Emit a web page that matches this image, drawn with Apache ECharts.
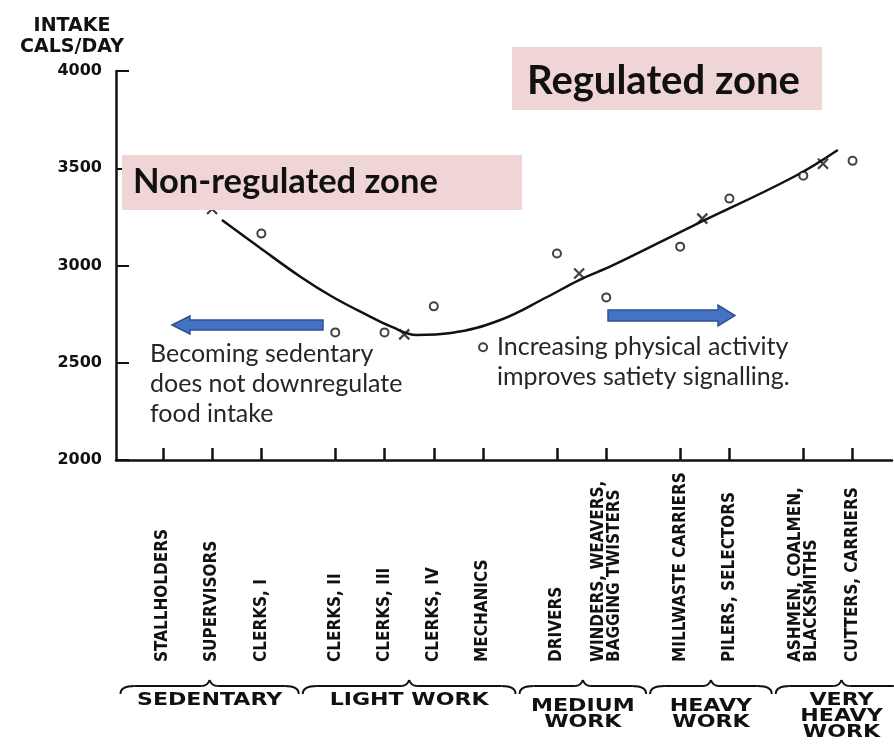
<!DOCTYPE html>
<html>
<head>
<meta charset="utf-8">
<script src="https://cdn.jsdelivr.net/npm/echarts@6/dist/echarts.min.js"></script>
<style>
  html, body { margin: 0; padding: 0; background: #fff; }
  #chart { width: 894px; height: 745px; }
</style>
</head>
<body>
<div id="chart"></div>
<script>
// occupations along the x axis (x = slot on the axis, gaps between work groups)
const occupations = ['STALLHOLDERS', 'SUPERVISORS', 'CLERKS, I', 'CLERKS, II', 'CLERKS, III', 'CLERKS, IV', 'MECHANICS',
	'DRIVERS', 'WINDERS, WEAVERS,\nBAGGING TWISTERS', 'MILLWASTE CARRIERS', 'PILERS, SELECTORS',
	'ASHMEN, COALMEN,\nBLACKSMITHS', 'CUTTERS, CARRIERS'];
const occupationX = [0, 2, 4, 7, 9, 11, 13, 16, 18, 21, 23, 26, 28];
// stallholders and supervisors are hidden behind the label box in the source
const occupationIntake = [null, null, 3164, 2656, 2656, 2790, 2580, 3062, 2836, 3097, 3344, 3462, 3538];

// work groups: means (x marks) and the bracket bounds below the labels
const groups = ['SEDENTARY', 'LIGHT WORK', 'MEDIUM\nWORK', 'HEAVY\nWORK', 'VERY\nHEAVY\nWORK'];
const groupBounds = [-1.8, 5.6, 14.4, 19.7, 24.8, 30.3];
const groupMeanX = [2, 9.8, 16.9, 21.9, 26.8];
const groupMeanIntake = [3290, 2646, 2959, 3241, 3523];

// fitted curve
const curveX = [2.4, 3.9, 5.6, 6.9, 8.3, 9.3, 10.3, 11.7, 13.7, 15.6, 16.9, 18.3, 21.5, 25.6, 27.4];
const curveIntake = [3234, 3095, 2941, 2838, 2745, 2684, 2643, 2653, 2720, 2838, 2925, 3003, 3203, 3455, 3594];

const yTicks = [2000, 2500, 3000, 3500, 4000];

let chart = echarts.init(document.getElementById('chart'));

let circles = [];
occupationX.forEach(function (x, i) {
	if (occupationIntake[i] != null) circles.push([x, occupationIntake[i]]);
});

option = {
	backgroundColor: '#fff',
	animation: false,
	grid: {
		left: 116,
		right: 2,
		top: 71,
		bottom: 285,
		containLabel: false,
		outerBoundsMode: 'none'
	},
	xAxis: {
		type: 'value',
		min: -1.9,
		max: 29.6,
		splitLine: { show: false },
		axisLine: { onZero: false, lineStyle: { color: '#111', width: 2.5 } },
		axisTick: {
			inside: true,
			length: 12,
			customValues: occupationX,
			lineStyle: { color: '#111', width: 2.5 }
		},
		axisLabel: {
			customValues: occupationX,
			formatter: function (val) {
				return occupations[occupationX.indexOf(val)];
			},
			rotate: 90,
			align: 'left',
			verticalAlign: 'middle',
			margin: 202,
			fontFamily: 'DejaVu Sans Condensed',
			fontWeight: 'bold',
			fontSize: 17,
			lineHeight: 16,
			color: '#111'
		}
	},
	yAxis: {
		type: 'value',
		min: yTicks[0],
		max: yTicks[yTicks.length - 1],
		interval: 500,
		name: 'INTAKE\nCALS/DAY',
		nameLocation: 'end',
		nameGap: 13,
		nameTextStyle: {
			fontFamily: 'DejaVu Sans',
			fontWeight: 'bold',
			fontSize: 19,
			lineHeight: 21,
			color: '#111',
			align: 'center',
			padding: [0, 88, 0, 0]
		},
		splitLine: { show: false },
		axisLine: { show: true, onZero: false, lineStyle: { color: '#111', width: 2.5 } },
		axisTick: { show: true, inside: true, length: 13, lineStyle: { color: '#111', width: 2 } },
		axisLabel: {
			margin: 14,
			formatter: function (val) { return String(val); },
			fontFamily: 'DejaVu Sans',
			fontWeight: 'bold',
			fontSize: 16,
			color: '#111'
		}
	},
	series: [{
		type: 'line',
		data: curveX.map(function (x, i) { return [x, curveIntake[i]]; }),
		smooth: 0.4,
		symbol: 'none',
		lineStyle: { color: '#111', width: 2.5 },
		z: 2
	}, {
		type: 'scatter',
		data: circles,
		symbol: 'emptyCircle',
		symbolSize: 8,
		itemStyle: { color: '#111', borderColor: '#111', borderWidth: 1.8 },
		z: 3
	}, {
		type: 'scatter',
		data: groupMeanX.map(function (x, i) { return [x, groupMeanIntake[i]]; }),
		symbol: 'path://M0,0L10,10M10,0L0,10',
		symbolSize: 10,
		itemStyle: { color: 'transparent', borderColor: '#111', borderWidth: 2.2 },
		z: 3
	}]
};

chart.setOption(option, true);

// annotations and group brackets
let pink = '#efd5d5';
let textFont = 'Lato';
let elements = [{
	type: 'rect',
	shape: { x: 512, y: 47, width: 310, height: 63 },
	style: { fill: pink },
	z: 100
}, {
	type: 'text',
	x: 527, y: 81,
	style: { text: 'Regulated zone', font: 'bold 40px ' + textFont, fill: '#111', verticalAlign: 'middle' },
	z: 101
}, {
	type: 'rect',
	shape: { x: 122, y: 155, width: 400, height: 55 },
	style: { fill: pink },
	z: 100
}, {
	type: 'text',
	x: 133, y: 182,
	style: { text: 'Non-regulated zone', font: 'bold 34.5px ' + textFont, fill: '#111', verticalAlign: 'middle' },
	z: 101
}, {
	type: 'polygon',
	shape: { points: [[172, 325], [190, 316], [190, 320], [323, 320], [323, 330], [190, 330], [190, 334]] },
	style: { fill: '#4472c4', stroke: '#2f528f', lineWidth: 1.5 },
	z: 100
}, {
	type: 'polygon',
	shape: { points: [[608, 310], [718, 310], [718, 305], [735, 315.5], [718, 326], [718, 321], [608, 321]] },
	style: { fill: '#4472c4', stroke: '#2f528f', lineWidth: 1.5 },
	z: 100
}, {
	type: 'text',
	x: 150, y: 339,
	style: {
		text: 'Becoming sedentary\ndoes not downregulate\nfood intake',
		font: '25px ' + textFont, lineHeight: 30, fill: '#262626', verticalAlign: 'top'
	},
	z: 101
}, {
	type: 'text',
	x: 497, y: 332,
	style: {
		text: 'Increasing physical activity\nimproves satiety signalling.',
		font: '25px ' + textFont, lineHeight: 30, fill: '#262626', verticalAlign: 'top'
	},
	z: 101
}];

let braceStyle = { fill: 'none', stroke: '#111', lineWidth: 2 };
groups.forEach(function (name, i) {
	let x0 = chart.convertToPixel({ xAxisIndex: 0 }, groupBounds[i]) + 2;
	let x1 = chart.convertToPixel({ xAxisIndex: 0 }, groupBounds[i + 1]) - 2;
	let xm = (x0 + x1) / 2;
	let yb = 686;
	let textTop = name.split('\n').length == 2 ? 699 : 693;
	// left curl, left run, peak, right run, right curl
	elements.push(
		{ type: 'bezierCurve', shape: { x1: x0, y1: yb + 8, cpx1: x0, cpy1: yb, x2: x0 + 14, y2: yb }, style: braceStyle, z: 100 },
		{ type: 'line', shape: { x1: x0 + 14, y1: yb, x2: xm - 8, y2: yb }, style: braceStyle, z: 100 },
		{ type: 'bezierCurve', shape: { x1: xm - 8, y1: yb, cpx1: xm - 2, cpy1: yb, x2: xm, y2: yb - 6 }, style: braceStyle, z: 100 },
		{ type: 'bezierCurve', shape: { x1: xm, y1: yb - 6, cpx1: xm + 2, cpy1: yb, x2: xm + 8, y2: yb }, style: braceStyle, z: 100 },
		{ type: 'line', shape: { x1: xm + 8, y1: yb, x2: x1 - 14, y2: yb }, style: braceStyle, z: 100 },
		{ type: 'bezierCurve', shape: { x1: x1 - 14, y1: yb, cpx1: x1, cpy1: yb, x2: x1, y2: yb + 8 }, style: braceStyle, z: 100 },
		{
			type: 'text',
			x: xm, y: textTop,
			originX: 0, originY: 0,
			scaleX: 1.3,
			style: {
				text: name, font: 'bold 17px DejaVu Sans', lineHeight: 16,
				fill: '#111', align: 'center', verticalAlign: 'top'
			},
			z: 101
		}
	);
});

chart.setOption({ graphic: { elements: elements } });
</script>
</body>
</html>
